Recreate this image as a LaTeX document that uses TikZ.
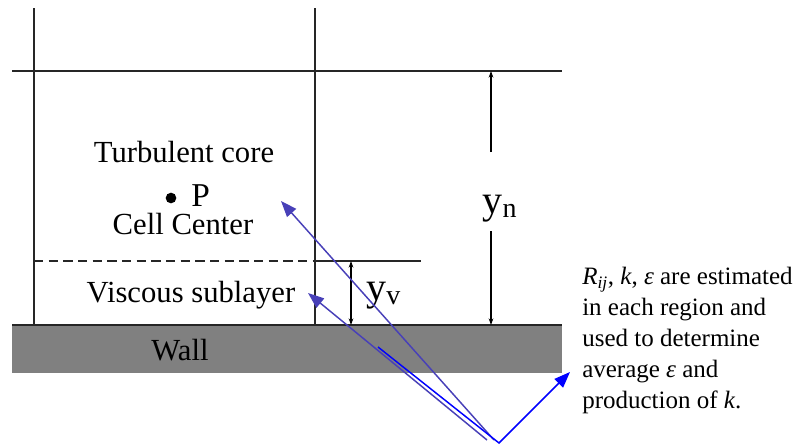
\documentclass[tikz,border=0pt]{standalone}
\usepackage{fontspec}
\setmainfont{LiberationSerif}[Extension=.ttf, UprightFont=*-Regular, ItalicFont=*-Italic, BoldFont=*-Bold, BoldItalicFont=*-BoldItalic]
\usetikzlibrary{arrows.meta, positioning, calc}
\definecolor{wallgray}{HTML}{808080}
\definecolor{slateblue}{RGB}{72,64,184}
\definecolor{pureblue}{HTML}{0000FF}
\tikzset{
  frame/.style={line width=1.2pt, draw=black!85},
  dimarr/.style={{Stealth[length=5pt,width=3.5pt]}-{Stealth[length=5pt,width=3.5pt]}, line width=0.8pt},
  halfarr/.style={-{Stealth[length=5pt,width=3.5pt]}, line width=0.8pt},
  pointer/.style={-{Triangle[length=12pt,width=9pt]}, line width=1.1pt, draw=#1},
  pointer/.default=slateblue,
  lab/.style={font=\fontsize{23}{27}\selectfont, inner sep=0pt, anchor=base},
  ylab/.style={font=\fontsize{30}{34}\selectfont, inner sep=0pt, anchor=base},
  dot/.style={circle, fill=black, inner sep=0pt, minimum size=8pt},
  note/.style={font=\fontsize{18.75}{23.25}\selectfont, align=left, inner sep=0pt, anchor=north west}
}

\begin{document}
\begin{tikzpicture}[x=0.75pt,y=-0.75pt]
  \useasboundingbox (0,0) rectangle (812,446);
  % wall
  \fill[wallgray] (12,325) rectangle (562,373);
  \draw[frame] (12,325) -- (562,325);
  % cell edges
  \draw[frame] (34,8) -- (34,325);
  \draw[frame] (315,8) -- (315,325);
  \draw[frame] (12,71) -- (562,71);
  \draw[frame, dash pattern=on 7pt off 4pt] (34,261) -- (315,261);
  \draw[frame] (315,261) -- (421,261);

  % labels
  \node[lab] (core) at (184,162) {Turbulent core};
  \node[dot] (ctr) at (171,198) {};
  \node[lab, anchor=base west, font=\fontsize{25}{29}\selectfont] (P) at (191,206) {P};
  \node[lab] (cc) at (183,234) {Cell Center};
  \node[lab] (visc) at (191,302) {Viscous sublayer};
  \node[lab] (wall) at (180,360) {Wall};

  % heights
  \coordinate (ntop) at (491,71);
  \coordinate (nbot) at (491,325);
  \coordinate (gaptop) at (491,152);
  \coordinate (gapbot) at (491,231);
  \node[ylab] (yn) at (500,213) {y\textsubscript{n}};
  \draw[halfarr] (gaptop) -- (ntop);
  \draw[halfarr] (gapbot) -- (nbot);
  \coordinate (vtop) at (351,261);
  \coordinate (vbot) at (351,325);
  \draw[dimarr] (vtop) -- (vbot);
  \node[ylab, anchor=base west] (yv) at (366,300) {y\textsubscript{v}};

  % pointers
  \coordinate (vtx) at (499,443);
  \coordinate (armend) at (378,347);
  \coordinate (ptail) at (494,440);
  \coordinate (vtail) at (487,440);
  \coordinate (ptip) at (281,201);
  \coordinate (vtip) at (308,293);
  \coordinate (ttip) at (570,372);
  \draw[pointer] (ptail) -- (ptip);
  \draw[pointer] (vtail) -- (vtip);
  \draw[pointer=pureblue] (armend) -- (vtx) -- (ttip);

  \node[note] (txt) at (582,267)
    {\textit{R}\textsubscript{\textit{ij}}, \textit{k}, \textit{ε} are estimated\\
     in each region and\\
     used to determine\\
     average \textit{ε} and\\
     production of \textit{k}.};
\end{tikzpicture}
\end{document}
